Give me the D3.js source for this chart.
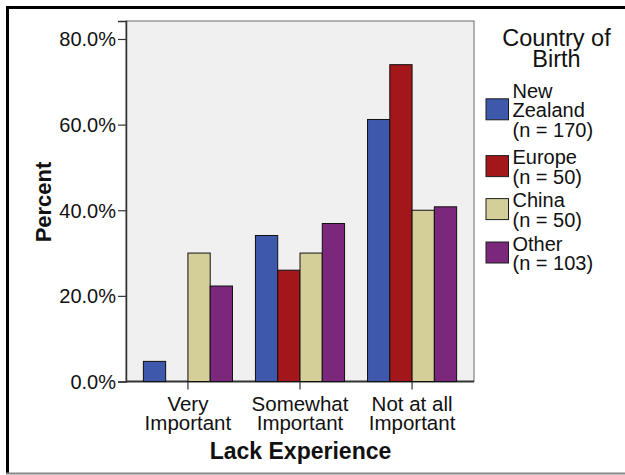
<!DOCTYPE html>
<html>
<head>
<meta charset="utf-8">
<script src="https://cdn.jsdelivr.net/npm/d3@7"></script>
<style>
  html, body { margin: 0; padding: 0; background: #fff; }
  svg { display: block; font-family: "Liberation Sans", Arial, sans-serif; }
</style>
</head>
<body>
<svg id="chart" width="625" height="475"></svg>
<script>
// ---- data ----
const categories = ["Very Important", "Somewhat Important", "Not at all Important"];
const categoryLines = [["Very", "Important"], ["Somewhat", "Important"], ["Not at all", "Important"]];
const series = ["New Zealand", "Europe", "China", "Other"];
const seriesLegendLines = [["New", "Zealand", "(n = 170)"], ["Europe", "(n = 50)"], ["China", "(n = 50)"], ["Other", "(n = 103)"]];
const newZealand = [4.7, 34.1, 61.2];
const europe = [0.0, 26.0, 74.0];
const china = [30.0, 30.0, 40.0];
const other = [22.3, 36.9, 40.8];
const yTicks = [0, 20, 40, 60, 80];
const colors = ["#3E58AC", "#A3171B", "#D4CF98", "#7B287C"];

const values = [newZealand, europe, china, other];

// ---- layout ----
const svg = d3.select("#chart");
const plot = { left: 126, right: 474, top: 21, bottom: 381.5 };

svg.append("rect").attr("width", 625).attr("height", 475).attr("fill", "#fff");

// outer frame
svg.append("line").attr("x1", 6).attr("x2", 625).attr("y1", 7.5).attr("y2", 7.5)
  .attr("stroke", "#000").attr("stroke-width", 3);
svg.append("line").attr("x1", 7.5).attr("x2", 7.5).attr("y1", 6).attr("y2", 473)
  .attr("stroke", "#000").attr("stroke-width", 3);
svg.append("line").attr("x1", 6).attr("x2", 625).attr("y1", 473.5).attr("y2", 473.5)
  .attr("stroke", "#888").attr("stroke-width", 2);

const y = d3.scaleLinear().domain([0, 84.2]).range([plot.bottom, plot.top]);
const x0 = d3.scaleBand().domain(categories).range([plot.left, plot.right])
  .paddingInner(0.205).paddingOuter(0.155);
const x1 = d3.scaleBand().domain(series).range([0, x0.bandwidth()]).padding(0);

// plot background
svg.append("rect")
  .attr("x", plot.left).attr("y", plot.top)
  .attr("width", plot.right - plot.left).attr("height", plot.bottom - plot.top)
  .attr("fill", "#F0F0F0").attr("stroke", "#6a6a6a").attr("stroke-width", 1);

// x axis line and ticks
svg.append("line").attr("x1", plot.left).attr("x2", plot.right)
  .attr("y1", plot.bottom).attr("y2", plot.bottom)
  .attr("stroke", "#333").attr("stroke-width", 2);
svg.append("g").selectAll("line").data(categories).join("line")
  .attr("x1", d => x0(d) + x0.bandwidth() / 2).attr("x2", d => x0(d) + x0.bandwidth() / 2)
  .attr("y1", plot.bottom).attr("y2", plot.bottom + 8)
  .attr("stroke", "#333").attr("stroke-width", 1.2);

// bars
const groups = svg.append("g").selectAll("g").data(categories).join("g")
  .attr("transform", d => `translate(${x0(d)},0)`);
groups.selectAll("rect")
  .data((c, ci) => series.map((s, si) => ({ s, si, v: values[si][ci] })))
  .join("rect")
  .attr("x", d => x1(d.s))
  .attr("y", d => y(d.v))
  .attr("width", x1.bandwidth())
  .attr("height", d => y(0) - y(d.v))
  .attr("fill", d => colors[d.si])
  .attr("stroke", "#111").attr("stroke-width", d => d.v === 0 ? 2 : 1);

// y axis
const yAxis = d3.axisLeft(y).tickValues(yTicks).tickSize(8).tickPadding(2)
  .tickFormat(d => d3.format(".1f")(d) + "%");
const ya = svg.append("g").attr("transform", `translate(${plot.left},0)`).call(yAxis);
ya.select(".domain").attr("stroke", "#333").attr("stroke-width", 1.5);
ya.selectAll(".tick line").attr("stroke", "#333").attr("stroke-width", 1.2);
ya.selectAll(".tick text").attr("font-size", 20).attr("fill", "#111")
  .attr("font-family", "'Liberation Sans', Arial, sans-serif").attr("dy", "0.35em");

// x category labels
const xl = svg.append("g").selectAll("text").data(categories).join("text")
  .attr("x", d => x0(d) + x0.bandwidth() / 2)
  .attr("y", 410.5)
  .attr("text-anchor", "middle").attr("font-size", 20.5).attr("fill", "#111");
xl.selectAll("tspan").data((d, i) => categoryLines[i]).join("tspan")
  .attr("x", function () { return d3.select(this.parentNode).attr("x"); })
  .attr("dy", (d, i) => i === 0 ? 0 : 19)
  .text(d => d);

// axis titles
svg.append("text").attr("x", 300.5).attr("y", 458.5).attr("text-anchor", "middle")
  .attr("font-size", 23).attr("font-weight", "bold").attr("fill", "#111")
  .text("Lack Experience");
svg.append("text").attr("transform", "translate(51,202) rotate(-90)")
  .attr("text-anchor", "middle").attr("font-size", 22).attr("font-weight", "bold").attr("fill", "#111")
  .text("Percent");

// legend
const lg = svg.append("g");
const titleLines = ["Country of", "Birth"];
lg.selectAll("text.title").data(titleLines).join("text").attr("class", "title")
  .attr("x", 556.5).attr("y", (d, i) => 45.7 + i * 21)
  .attr("text-anchor", "middle").attr("font-size", 23.5).attr("fill", "#111")
  .text(d => d);

const firstBaselines = [97.7, 164.3, 207.3, 250.7];
const lineH = 19.6;
series.forEach((s, i) => {
  const lines = seriesLegendLines[i];
  const b0 = firstBaselines[i];
  const meanB = b0 + lineH * (lines.length - 1) / 2;
  const cy = meanB - 8;
  lg.append("rect").attr("x", 486).attr("y", cy - 10.5).attr("width", 22.5).attr("height", 21)
    .attr("fill", colors[i]).attr("stroke", "#1e1e1e").attr("stroke-width", 1);
  const t = lg.append("text").attr("x", 512.5).attr("y", b0)
    .attr("font-size", 20).attr("fill", "#111");
  t.selectAll("tspan").data(lines).join("tspan")
    .attr("x", 512.5).attr("dy", (d, j) => j === 0 ? 0 : lineH).text(d => d);
});
</script>
</body>
</html>
